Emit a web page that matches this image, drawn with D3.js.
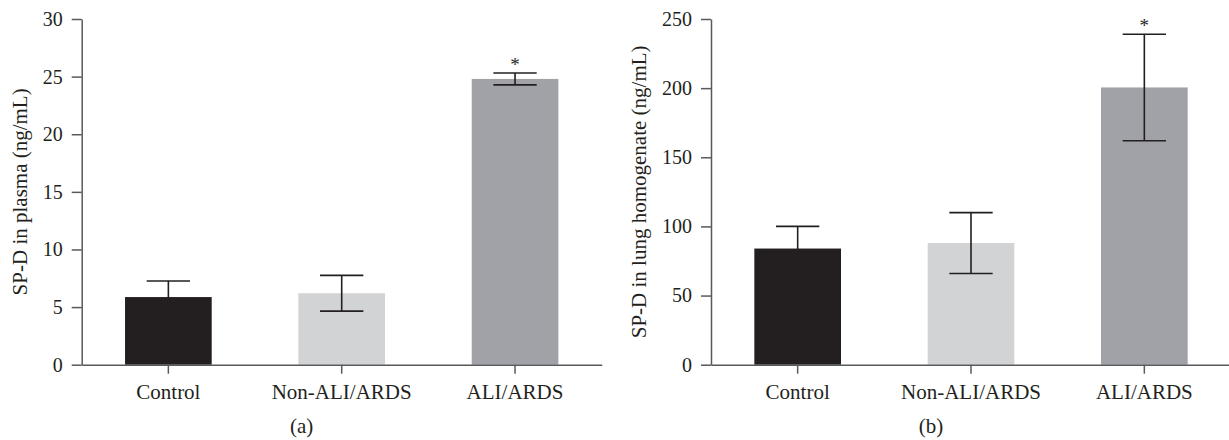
<!DOCTYPE html>
<html>
<head>
<meta charset="utf-8">
<script src="https://cdn.jsdelivr.net/npm/d3@7"></script>
<style>
  body { margin: 0; background: #fff; }
  text { font-family: "Liberation Serif", "DejaVu Serif", serif; fill: #231f20; }
  .axis path, .axis line { stroke: #58595b; stroke-width: 1.5; }
</style>
</head>
<body>
<div id="chart"></div>
<script>
// Data
var groups = ["Control", "Non-ALI/ARDS", "ALI/ARDS"];
var plasmaMean = [5.87, 6.2, 24.8];
var plasmaErr = [1.4, 1.55, 0.52];
var lungMean = [84, 88, 200.5];
var lungErr = [16, 22, 38.5];
var significant = [false, false, true];
var plasmaTicks = [0, 5, 10, 15, 20, 25, 30];
var lungTicks = [0, 50, 100, 150, 200, 250];
var barColors = ["#231f20", "#d1d3d4", "#a0a2a8"];

var svgWidth = 1229;
var svgHeight = 440;

var svg = d3.select("#chart")
  .append("svg")
  .attr("width", svgWidth)
  .attr("height", svgHeight);

function drawPanel(opts) {
  var top = 19, bottom = 364.7;

  var xScale = d3.scaleBand()
    .domain(groups)
    .range([opts.left, opts.left + 520])
    .paddingInner(0.5)
    .paddingOuter(0.25);

  var yScale = d3.scaleLinear()
    .domain([0, opts.max])
    .range([bottom, top]);

  var cx = i => xScale(groups[i]) + xScale.bandwidth() / 2;
  var idx = groups.map((d, i) => i);

  var g = svg.append("g");

  // bars
  g.selectAll("rect.bar")
    .data(idx)
    .enter()
    .append("rect")
    .attr("class", "bar")
    .attr("x", i => xScale(groups[i]))
    .attr("y", i => yScale(opts.mean[i]))
    .attr("width", xScale.bandwidth())
    .attr("height", i => yScale(0) - yScale(opts.mean[i]))
    .attr("fill", i => barColors[i]);

  // error bars
  var capW = xScale.bandwidth() / 2;
  var err = g.selectAll("g.err")
    .data(idx)
    .enter()
    .append("g")
    .attr("class", "err")
    .attr("stroke", "#231f20")
    .attr("stroke-width", 1.6);

  err.append("line")
    .attr("x1", cx)
    .attr("x2", cx)
    .attr("y1", i => yScale(opts.mean[i] - opts.err[i]))
    .attr("y2", i => yScale(opts.mean[i] + opts.err[i]));

  [1, -1].forEach(function(sign) {
    err.append("line")
      .attr("x1", i => cx(i) - capW / 2)
      .attr("x2", i => cx(i) + capW / 2)
      .attr("y1", i => yScale(opts.mean[i] + sign * opts.err[i]))
      .attr("y2", i => yScale(opts.mean[i] + sign * opts.err[i]));
  });

  // significance asterisks
  g.selectAll("text.star")
    .data(idx.filter(i => significant[i]))
    .enter()
    .append("text")
    .attr("class", "star")
    .attr("x", cx)
    .attr("y", i => yScale(opts.mean[i] + opts.err[i]) - 2)
    .attr("text-anchor", "middle")
    .attr("font-size", "19px")
    .text("*");

  // axes
  var yAxis = d3.axisLeft(yScale)
    .tickValues(opts.ticks)
    .tickSize(10)
    .tickPadding(9)
    .tickSizeOuter(0);

  g.append("g")
    .attr("class", "axis")
    .attr("transform", `translate(${opts.left}, 0)`)
    .call(yAxis)
    .call(a => a.selectAll("text").attr("font-size", "20px").attr("fill", "#231f20"));

  var xAxis = d3.axisBottom(xScale)
    .tickSize(9)
    .tickPadding(10)
    .tickSizeOuter(0);

  g.append("g")
    .attr("class", "axis")
    .attr("transform", `translate(0, ${bottom})`)
    .call(xAxis)
    .call(a => a.selectAll("text").attr("font-size", "21px").attr("fill", "#231f20"));

  // y label
  g.append("text")
    .attr("transform", `translate(${opts.labelX}, ${(top + bottom) / 2}) rotate(-90)`)
    .attr("text-anchor", "middle")
    .attr("dy", "0.35em")
    .attr("font-size", "21px")
    .text(opts.label);

  // panel letter
  g.append("text")
    .attr("x", opts.left + 220)
    .attr("y", 433)
    .attr("text-anchor", "middle")
    .attr("font-size", "21px")
    .text(opts.letter);
}

drawPanel({
  left: 81.7,
  max: 30,
  mean: plasmaMean,
  err: plasmaErr,
  ticks: plasmaTicks,
  label: "SP-D in plasma (ng/mL)",
  labelX: 20,
  letter: "(a)"
});

drawPanel({
  left: 711,
  max: 250,
  mean: lungMean,
  err: lungErr,
  ticks: lungTicks,
  label: "SP-D in lung homogenate (ng/mL)",
  labelX: 639,
  letter: "(b)"
});
</script>
</body>
</html>
